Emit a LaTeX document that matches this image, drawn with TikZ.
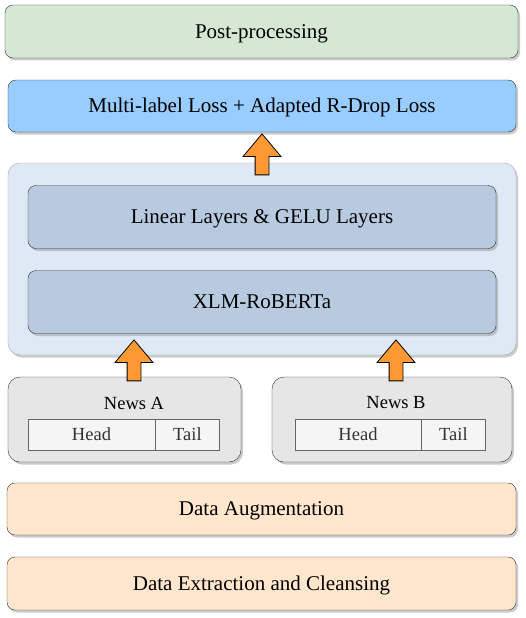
\documentclass[tikz,border=0pt]{standalone}
\usepackage{fontspec}
\setmainfont{Liberation Serif}
\usetikzlibrary{positioning,shapes.arrows,shadows}
\definecolor{post}{HTML}{D5E8D4}
\definecolor{loss}{HTML}{99CCFF}
\definecolor{outer}{HTML}{DFE9F5}
\definecolor{inner}{HTML}{B8CAE0}
\definecolor{news}{HTML}{E6E6E6}
\definecolor{part}{HTML}{F5F5F5}
\definecolor{data}{HTML}{FFE6CC}
\definecolor{arr}{HTML}{FF9933}
\tikzset{sh/.style={drop shadow={shadow xshift=2pt, shadow yshift=-2.5pt, fill=black!45, opacity=0.45}},
         bx/.style={rectangle, rounded corners=8pt, draw=black!80, fill=#1, sh, inner sep=0pt,
            font=\fontsize{21}{24}\selectfont, text height=15pt, text depth=2pt},
         cell/.style={rectangle, draw=black!60, fill=part, inner sep=0pt, minimum height=31pt,
            text=black!80, font=\fontsize{18.5}{21}\selectfont, text height=13pt, text depth=2pt},
         up/.style={single arrow, draw=black, thick, fill=arr, rotate=90, inner sep=6.5pt,
            minimum width=0pt, single arrow head extend=12pt, single arrow tip angle=80,
            minimum height=41pt}}

\begin{document}
\begin{tikzpicture}[x=1pt, y=-1pt]
\useasboundingbox (0,0) rectangle (526,618);
 \node[bx=post, minimum width=513pt, minimum height=53pt] (pp) at (261.5,31.5) {Post-processing};
 \node[bx=loss, minimum width=508pt, minimum height=52pt] (lss) at (262,106)
    {Multi-label Loss + Adapted R-Drop Loss};
 % model block
 \node[bx=outer, draw=black!35, rounded corners=12pt, minimum width=508pt, minimum height=192pt]
    (mdl) at (262,259) {};
 \node[bx=inner, sh/.style={}, minimum width=468pt, minimum height=63pt] (lin) at (262,217)
    {Linear Layers \& GELU Layers};
 \node[bx=inner, sh/.style={}, minimum width=468pt, minimum height=63pt] (xlm) at (262,302)
    {XLM-RoBERTa};
 \node[up] (up1) at (262,158.5) {};
 % inputs
 \node[bx=news, rounded corners=12pt, minimum width=233pt, minimum height=85pt] (nwa) at (124.5,419.5) {};
 \node[bx=news, rounded corners=12pt, minimum width=240pt, minimum height=85pt] (nwb) at (392,419.5) {};
 \node[font=\fontsize{18.5}{21}\selectfont] (tta) at (134,403) {News A};
 \node[font=\fontsize{18.5}{21}\selectfont] (ttb) at (396,403) {News B};
 \node[cell, minimum width=127pt] (hda) at (91.5,434.5) {Head};
 \node[cell, minimum width=64pt, right=0pt of hda] (tla) {Tail};
 \node[cell, minimum width=126pt] (hdb) at (358,434.5) {Head};
 \node[cell, minimum width=64pt, right=0pt of hdb] (tlb) {Tail};
 \node[up] (up2) at (134,364.5) {};
 \node[up] (up3) at (396,364.5) {};
 % data
 \node[bx=data, minimum width=509pt, minimum height=52pt] (aug) at (261.5,509) {Data Augmentation};
 \node[bx=data, minimum width=509pt, minimum height=53pt] (ext) at (261.5,583.5)
    {Data Extraction and Cleansing};
\end{tikzpicture}
\end{document}
